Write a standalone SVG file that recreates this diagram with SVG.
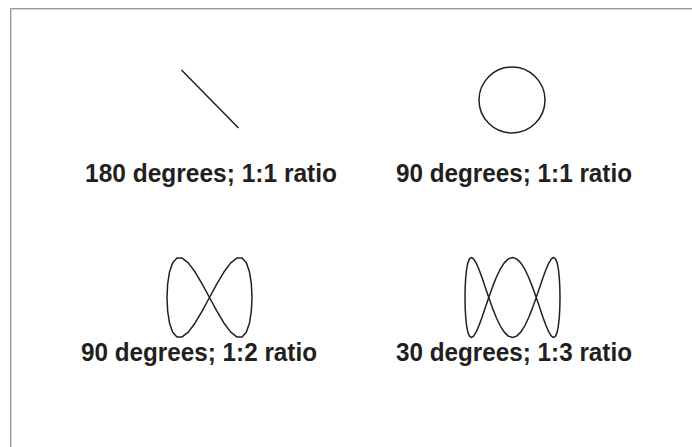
<svg xmlns="http://www.w3.org/2000/svg" width="692" height="447" viewBox="0 0 692 447">
<style>
.lbl{font-family:"Liberation Sans",Arial,sans-serif;font-weight:bold;font-size:26px;fill:#231f20}
.crv{fill:none;stroke:#231f20;stroke-width:1.5;stroke-linejoin:round}
</style>
<rect width="692" height="447" fill="#fff"/>
<g id="frame" fill="none">
<path d="M10.5,447 V8.5 H692" stroke="#999"/>
<path d="M11.5,447 V9.5 H692" stroke="#d4d4d4"/>
</g>
<g id="fig-180-1-1">
<line class="crv" x1="181.5" y1="70" x2="238.5" y2="128"/>
<text class="lbl" x="85" y="182" textLength="252" lengthAdjust="spacingAndGlyphs">180 degrees; 1:1 ratio</text>
</g>
<g id="fig-90-1-1">
<circle class="crv" cx="512" cy="100" r="33"/>
<text class="lbl" x="396" y="182" textLength="236" lengthAdjust="spacingAndGlyphs">90 degrees; 1:1 ratio</text>
</g>
<g id="fig-90-1-2">
<polygon class="crv" points="252,297.5 251.35,283.82 249.44,271.79 246.31,262.86 242.06,258.11 236.82,258.11 230.75,262.86 224.04,271.79 216.88,283.82 209.5,297.5 202.12,311.18 194.96,323.21 188.25,332.14 182.18,336.89 176.94,336.89 172.69,332.14 169.56,323.21 167.65,311.18 167,297.5 167.65,283.82 169.56,271.79 172.69,262.86 176.94,258.11 182.18,258.11 188.25,262.86 194.96,271.79 202.12,283.82 209.5,297.5 216.88,311.18 224.04,323.21 230.75,332.14 236.82,336.89 242.06,336.89 246.31,332.14 249.44,323.21 251.35,311.18"/>
<text class="lbl" x="81" y="361" textLength="236" lengthAdjust="spacingAndGlyphs">90 degrees; 1:2 ratio</text>
</g>
<g id="fig-30-1-3">
<polygon class="crv" points="560,297.5 559.82,287.15 559.28,277.5 558.38,269.22 557.14,262.86 555.55,258.86 553.64,257.5 551.41,258.86 548.89,262.86 546.09,269.22 543.03,277.5 539.75,287.15 536.25,297.5 532.57,307.85 528.75,317.5 524.79,325.78 520.75,332.14 516.64,336.14 512.5,337.5 508.36,336.14 504.25,332.14 500.21,325.78 496.25,317.5 492.43,307.85 488.75,297.5 485.25,287.15 481.97,277.5 478.91,269.22 476.11,262.86 473.59,258.86 471.36,257.5 469.45,258.86 467.86,262.86 466.62,269.22 465.72,277.5 465.18,287.15 465,297.5 465.18,307.85 465.72,317.5 466.62,325.78 467.86,332.14 469.45,336.14 471.36,337.5 473.59,336.14 476.11,332.14 478.91,325.78 481.97,317.5 485.25,307.85 488.75,297.5 492.43,287.15 496.25,277.5 500.21,269.22 504.25,262.86 508.36,258.86 512.5,257.5 516.64,258.86 520.75,262.86 524.79,269.22 528.75,277.5 532.57,287.15 536.25,297.5 539.75,307.85 543.03,317.5 546.09,325.78 548.89,332.14 551.41,336.14 553.64,337.5 555.55,336.14 557.14,332.14 558.38,325.78 559.28,317.5 559.82,307.85"/>
<text class="lbl" x="396" y="361" textLength="236" lengthAdjust="spacingAndGlyphs">30 degrees; 1:3 ratio</text>
</g>
</svg>
